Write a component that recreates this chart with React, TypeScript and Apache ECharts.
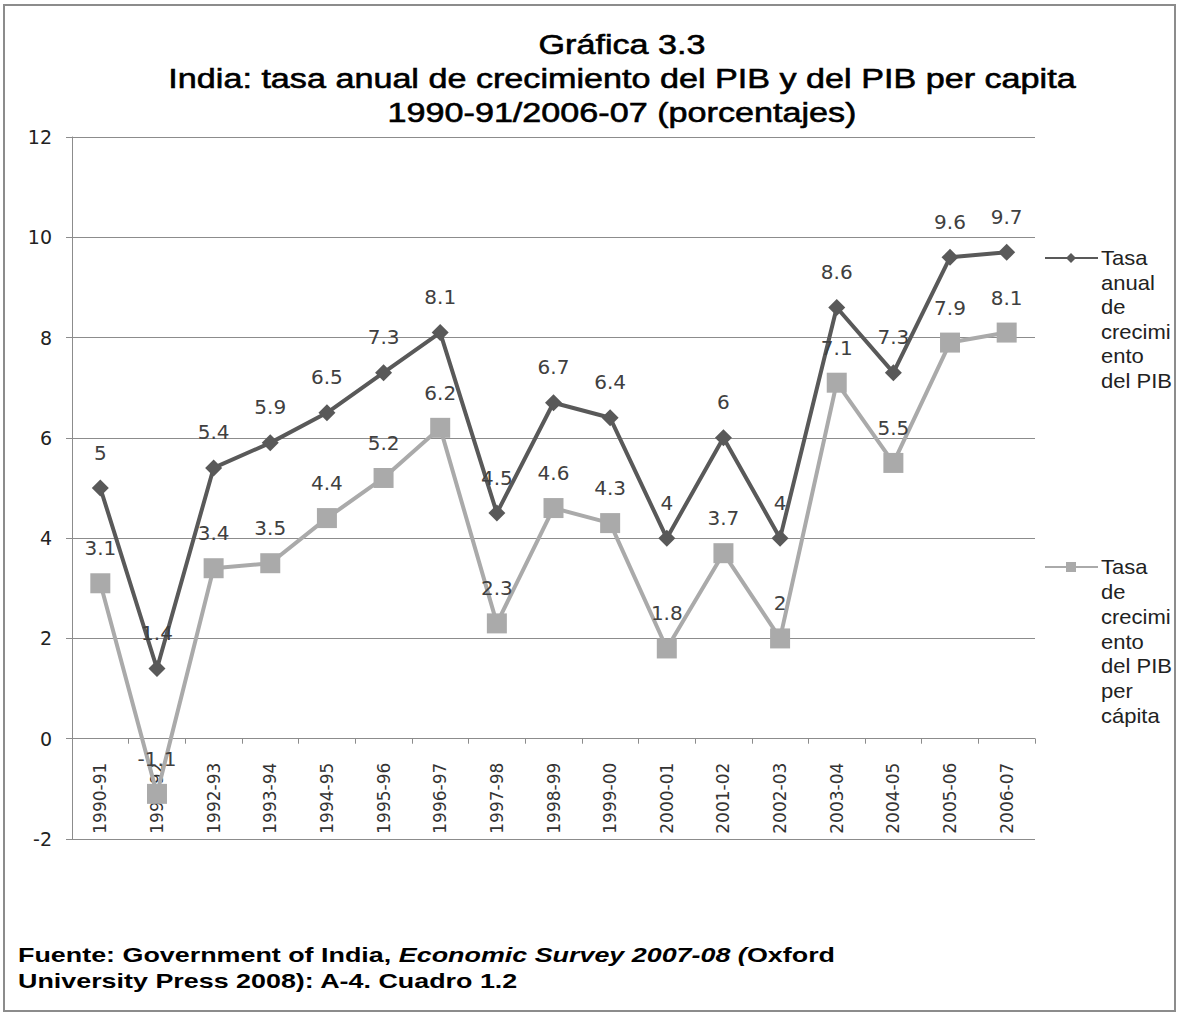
import React, { useEffect, useRef } from "react";
import * as echarts from "echarts";

const categories = [
  "1990-91", "1991-92", "1992-93", "1993-94", "1994-95", "1995-96", "1996-97",
  "1997-98", "1998-99", "1999-00", "2000-01", "2001-02", "2002-03", "2003-04",
  "2004-05", "2005-06", "2006-07",
];
const gdpGrowth = [5, 1.4, 5.4, 5.9, 6.5, 7.3, 8.1, 4.5, 6.7, 6.4, 4, 6, 4, 8.6, 7.3, 9.6, 9.7];
const gdpPerCapitaGrowth = [3.1, -1.1, 3.4, 3.5, 4.4, 5.2, 6.2, 2.3, 4.6, 4.3, 1.8, 3.7, 2, 7.1, 5.5, 7.9, 8.1];
const seriesNames = [
  "Tasa anual de crecimiento del PIB",
  "Tasa de crecimiento del PIB per cápita",
];
const legend1Lines = ["Tasa", "anual", "de", "crecimi", "ento", "del PIB"];
const legend2Lines = ["Tasa", "de", "crecimi", "ento", "del PIB", "per", "cápita"];
const titleLines = [
  "Gráfica 3.3",
  "India: tasa anual de crecimiento del PIB y del PIB per capita",
  "1990-91/2006-07 (porcentajes)",
];
const yMin = -2;
const yMax = 12;
const yStep = 2;

const DARK = "#595959";
const LIGHT = "#AAAAAA";
const GRID = "#8C8C8C";
const ARIAL = '"Liberation Sans", Arial, sans-serif';
const DEJAVU = '"DejaVu Sans", sans-serif';

const GRID_TOP = 137;
const GRID_BOTTOM = 175;
const CHART_H = 1014;

export default function App() {
  const ref = useRef<HTMLDivElement>(null);

  useEffect(() => {
    document.body.style.margin = "0";
    const chart = echarts.init(ref.current!, null, { renderer: "svg" });
    const plotH = CHART_H - GRID_TOP - GRID_BOTTOM;
    const zeroOffset = (plotH * (0 - yMin)) / (yMax - yMin);
    const labelStyle = {
      show: true,
      position: "top" as const,
      distance: 17,
      fontFamily: DEJAVU,
      fontSize: 20,
      color: "#404040",
    };
    chart.setOption({
      animation: false,
      backgroundColor: "#fff",
      grid: { left: 72, right: 143, top: GRID_TOP, bottom: GRID_BOTTOM, containLabel: false },
      xAxis: {
        type: "category",
        data: categories,
        boundaryGap: true,
        position: "bottom",
        offset: -zeroOffset,
        axisLine: { onZero: false, lineStyle: { color: GRID, width: 1 } },
        axisTick: { show: true, length: 5, lineStyle: { color: GRID }, alignWithLabel: false },
        axisLabel: {
          rotate: 90,
          margin: 24,
          fontFamily: DEJAVU,
          fontSize: 17,
          color: "#333",
          interval: 0,
        },
        splitLine: { show: false },
      },
      yAxis: {
        type: "value",
        min: yMin,
        max: yMax,
        interval: yStep,
        axisLine: { show: true, lineStyle: { color: GRID, width: 1 } },
        axisTick: { show: true, length: 6, lineStyle: { color: GRID } },
        axisLabel: { margin: 20, fontFamily: DEJAVU, fontSize: 19, color: "#222" },
        splitLine: { show: true, lineStyle: { color: GRID, width: 1 } },
      },
      series: [
        {
          name: seriesNames[0],
          type: "line",
          data: gdpGrowth,
          symbol: "diamond",
          symbolSize: 17,
          lineStyle: { color: DARK, width: 4 },
          itemStyle: { color: DARK },
          label: labelStyle,
          z: 3,
        },
        {
          name: seriesNames[1],
          type: "line",
          data: gdpPerCapitaGrowth,
          symbol: "rect",
          symbolSize: 20,
          lineStyle: { color: LIGHT, width: 4 },
          itemStyle: { color: LIGHT },
          label: { ...labelStyle, distance: 15 },
          z: 4,
        },
      ],
      graphic: [
        {
          type: "rect",
          z: -10,
          shape: { x: 4, y: 5, width: 1171, height: 1006 },
          style: { fill: "none", stroke: "#8C8C8C", lineWidth: 2 },
        },
        {
          type: "text",
          x: 622,
          y: 28,
          scaleX: 1.22,
          style: {
            text: titleLines.join("\n"),
            textAlign: "center",
            verticalAlign: "top",
            fontFamily: ARIAL,
            fontWeight: "normal",
            fontSize: 28,
            lineHeight: 34,
            fill: "#000",
            stroke: "#000",
            lineWidth: 0.6,
          },
        },
        // Legend item 1
        {
          type: "line",
          shape: { x1: 1045, y1: 258, x2: 1098, y2: 258 },
          style: { stroke: DARK, lineWidth: 2 },
        },
        {
          type: "polygon",
          shape: { points: [[1071, 253], [1076, 258], [1071, 263], [1066, 258]] },
          style: { fill: DARK },
        },
        {
          type: "text",
          x: 1101,
          y: 246,
          scaleX: 1.1,
          style: {
            text: legend1Lines.join("\n"),
            verticalAlign: "top",
            fontFamily: ARIAL,
            fontSize: 20,
            lineHeight: 24.5,
            fill: "#222",
          },
        },
        // Legend item 2
        {
          type: "line",
          shape: { x1: 1045, y1: 567, x2: 1098, y2: 567 },
          style: { stroke: LIGHT, lineWidth: 2 },
        },
        {
          type: "rect",
          shape: { x: 1066, y: 562, width: 10, height: 10 },
          style: { fill: LIGHT },
        },
        {
          type: "text",
          x: 1101,
          y: 555,
          scaleX: 1.1,
          style: {
            text: legend2Lines.join("\n"),
            verticalAlign: "top",
            fontFamily: ARIAL,
            fontSize: 20,
            lineHeight: 24.7,
            fill: "#222",
          },
        },
        // Source
        {
          type: "text",
          x: 18,
          y: 942,
          scaleX: 1.28,
          style: {
            text:
              "{b|Fuente: Government of India, }{i|Economic Survey 2007-08 (}{b|Oxford}\n{b|University Press 2008): A-4. Cuadro 1.2}",
            verticalAlign: "top",
            rich: {
              b: { fontFamily: ARIAL, fontWeight: "bold", fontSize: 21, lineHeight: 26, fill: "#000" },
              i: {
                fontFamily: ARIAL,
                fontWeight: "bold",
                fontStyle: "italic",
                fontSize: 21,
                lineHeight: 26,
                fill: "#000",
              },
            },
          },
        },
      ],
    });
    return () => chart.dispose();
  }, []);

  return <div ref={ref} style={{ width: 1178, height: 1014 }} />;
}
